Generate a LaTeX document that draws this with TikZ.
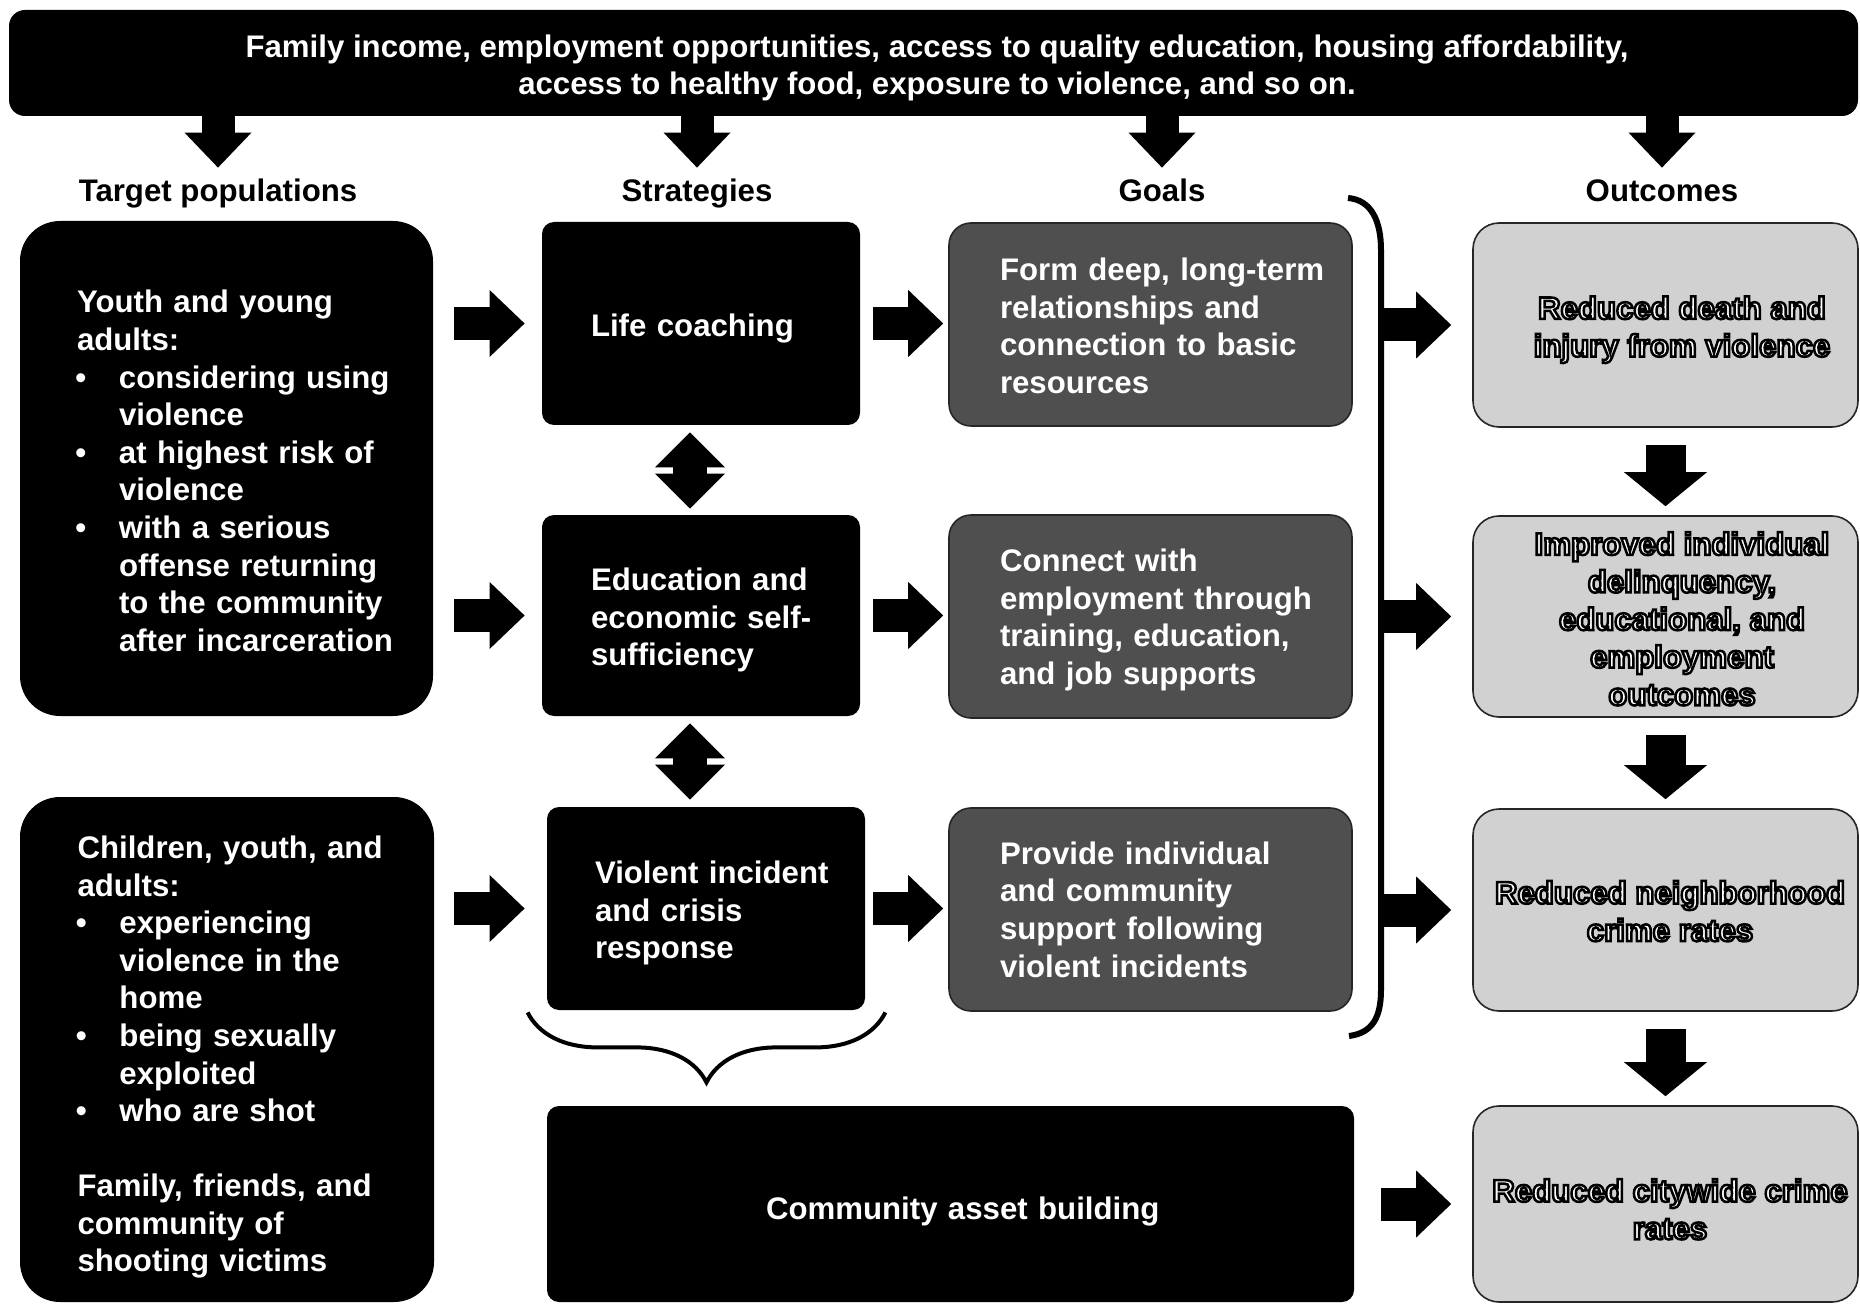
\documentclass[tikz,border=0pt]{standalone}
\usepackage{fontspec}
\setmainfont{Liberation Sans}
\newfontfamily\outfont[FakeBold=8]{Liberation Sans Bold}
\usetikzlibrary{positioning, calc, arrows.meta, decorations.pathreplacing}

\newcommand{\itm}{\makebox[21pt][l]{\hspace{-0.8pt}\textbullet}}
\newcommand{\hng}{\hspace*{21pt}}
\newcommand{\olt}[1]{{\outfont\special{pdf:literal direct 0 G}#1}}

\definecolor{goalgray}{gray}{0.31}
\definecolor{outgray}{gray}{0.82}

\begin{document}
\begin{tikzpicture}[x=0.5pt, y=-0.5pt,
		txt/.style={font=\fontsize{15.6}{18.8}\selectfont\bfseries},
		lsk/.style={execute at begin node={\leftskip=#1\relax}},
		csk/.style={execute at begin node={\leftskip=#1 plus 1fil\rightskip=0pt plus 1fil\relax}},
		drop/.style={execute at end node={\endgraf\kern-#1}},
		blackbox/.style={txt, fill=black, text=white, align=left, inner sep=1pt},
		popbox/.style={blackbox, rounded corners=20pt, text width=186.5pt, inner xsep=10pt, lsk=18.5pt},
		stratbox/.style={blackbox, rounded corners=6pt, minimum width=159pt, text width=143pt, inner xsep=8pt},
		goalbox/.style={txt, fill=goalgray, draw=black!85, line width=0.8pt, text=white, align=left, rounded corners=11pt, minimum width=201.5pt, minimum height=101.5pt, text width=185.5pt, inner xsep=8pt, inner ysep=1pt, lsk=17.5pt},
		outbox/.style={txt, fill=outgray, draw=black!85, line width=0.8pt, text=white, align=flush center, rounded corners=13pt, minimum width=192.5pt, text width=188.5pt, inner xsep=2pt, inner ysep=1pt},
		head/.style={txt, text height=11.5pt, text depth=3.5pt, inner sep=0pt},
		fat/.style={line width=16.5pt, -{Triangle[width=33.5pt, length=17.5pt, line width=0pt]}},
		bigfat/.style={line width=20pt, -{Triangle[width=41.5pt, length=17pt, line width=0pt]}},
		dfat/.style={line width=17pt, {Triangle[width=35pt, length=17.5pt, line width=0pt]}-{Triangle[width=35pt, length=17.5pt, line width=0pt]}}]

	\useasboundingbox (0,0) rectangle (1860,1305);

	% banner and headers
	\node (top) at (933.5, 63) [blackbox, align=flush center, rounded corners=8pt, minimum width=924.5pt, minimum height=53pt, text width=900pt, inner xsep=12.25pt, csk=3.5pt, drop=5pt] {Family income, employment opportunities, access to quality education, housing affordability,\\access to healthy food, exposure to violence, and so on.};
	\node (tp) at (218, 194) [head] {Target populations};
	\node (st) at (697, 194) [head] {Strategies};
	\node (gl) at (1162, 194) [head] {Goals};
	\node (oc) at (1662, 194) [head] {Outcomes};

	% target populations
	\node (popA) at (226.5, 468.5) [popbox, minimum width=206.5pt, minimum height=247.5pt, drop=2.4pt] {Youth and young\\adults:\\\itm considering using\\\hng violence\\\itm at highest risk of\\\hng violence\\\itm with a serious\\\hng offense returning\\\hng to the community\\\hng after incarceration};
	\node (popB) at (227, 1049.5) [popbox, minimum width=207pt, minimum height=252.5pt, drop=7.7pt] {Children, youth, and\\adults:\\\itm experiencing\\\hng violence in the\\\hng home\\\itm being sexually\\\hng exploited\\\itm who are shot\\[18.8pt]Family, friends, and\\community of\\shooting victims};

	% strategies
	\node (life) at (701, 323.5) [stratbox, minimum height=101.5pt, lsk=16.5pt, text height=16pt, text depth=3.3pt] {Life coaching};
	\node (edu) at (701, 615.5) [stratbox, minimum height=100.5pt, lsk=16.5pt, drop=4.7pt] {Education and\\economic self-\\sufficiency};
	\node (viol) at (706, 908.5) [stratbox, minimum height=101.5pt, lsk=16pt, drop=4.7pt] {Violent incident\\and crisis\\response};
	\node (comm) at (950.5, 1204) [blackbox, rounded corners=6pt, minimum width=403.5pt, minimum height=98pt, text width=387.5pt, inner xsep=8pt, lsk=101.5pt, text height=19pt, text depth=3.3pt] {Community asset building};

	% goals
	\node (goal1) at (1150.5, 324.5) [goalbox, drop=1.2pt] {Form deep, long-term\\relationships and\\connection to basic\\resources};
	\node (goal2) at (1150.5, 616.5) [goalbox, drop=3.6pt] {Connect with\\employment through\\training, education,\\and job supports};
	\node (goal3) at (1150.5, 909.5) [goalbox] {Provide individual\\and community\\support following\\violent incidents};

	% outcomes
	\node (out1) at (1665.5, 325) [outbox, minimum height=102pt, csk=16.5pt, drop=4.7pt] {\olt{Reduced death and}\\\olt{injury from violence}};
	\node (out2) at (1665.5, 616.5) [outbox, minimum height=100.5pt, csk=16.5pt, drop=2.4pt] {\olt{Improved individual}\\\olt{delinquency,}\\\olt{educational, and}\\\olt{employment}\\\olt{outcomes}};
	\node (out3) at (1665.5, 910) [outbox, minimum height=101pt, csk=4.5pt, drop=1.2pt] {\olt{Reduced neighborhood}\\\olt{crime rates}};
	\node (out4) at (1665.5, 1204) [outbox, minimum height=98pt, csk=4.5pt, drop=5.3pt] {\olt{Reduced citywide crime}\\\olt{rates}};

	% bracket round the goals
	\draw[line width=3pt] (1348, 198) .. controls (1372, 200) and (1381, 222) .. (1381, 250) -- (1381, 990) .. controls (1381, 1018) and (1372, 1033) .. (1349, 1036);
	\coordinate (brk) at (1381, 600);

	% brace under the strategies
	\draw[decorate, decoration={brace, amplitude=35pt}, line width=2pt] ([xshift=10pt, yshift=-1pt]viol.south east) -- ([xshift=-9.5pt, yshift=-1pt]viol.south west);

	% arrows
	\draw[fat, shorten >=5.5pt] (top.south -| tp) to (tp.north);
	\draw[fat, shorten >=5.5pt] (top.south -| st) to (st.north);
	\draw[fat, shorten >=5.5pt] (top.south -| gl) to (gl.north);
	\draw[fat, shorten >=5.5pt] (top.south -| oc) to (oc.north);

	\draw[fat, shorten <=10.5pt, shorten >=8.5pt] (popA.east |- life.west) to (life.west);
	\draw[fat, shorten <=10.5pt, shorten >=8.5pt] (popA.east |- edu.west) to (edu.west);
	\draw[fat, shorten <=10pt, shorten >=11pt] (popB.east |- viol.west) to (viol.west);

	\draw[fat, shorten <=6.5pt, shorten >=2.5pt] (life.east) to (life.east -| goal1.west);
	\draw[fat, shorten <=6.5pt, shorten >=2.5pt] (edu.east) to (edu.east -| goal2.west);
	\draw[fat, shorten <=4pt, shorten >=2.5pt] (viol.east) to (viol.east -| goal3.west);

	\draw[dfat, shorten <=3.5pt, shorten >=3pt] ([xshift=-5.5pt]life.south) to ([xshift=-5.5pt]edu.north);
	\draw[dfat, shorten <=3.5pt, shorten >=3.5pt] ([xshift=-5.5pt]edu.south) to ([xshift=-8pt]viol.north);

	\draw[fat, shorten >=10.5pt] (brk |- out1.west) to (out1.west);
	\draw[fat, shorten >=10.5pt] (brk |- out2.west) to (out2.west);
	\draw[fat, shorten >=10.5pt] (brk |- out3.west) to (out3.west);
	\draw[fat, shorten <=13.5pt, shorten >=10.5pt] (comm.east) to (comm.east -| out4.west);

	\draw[bigfat, shorten <=8.5pt, shorten >=4.5pt] (out1.south) to (out2.north);
	\draw[bigfat, shorten <=8.5pt, shorten >=4.5pt] (out2.south) to (out3.north);
	\draw[bigfat, shorten <=8.5pt, shorten >=4.5pt] (out3.south) to (out4.north);
\end{tikzpicture}
\end{document}
